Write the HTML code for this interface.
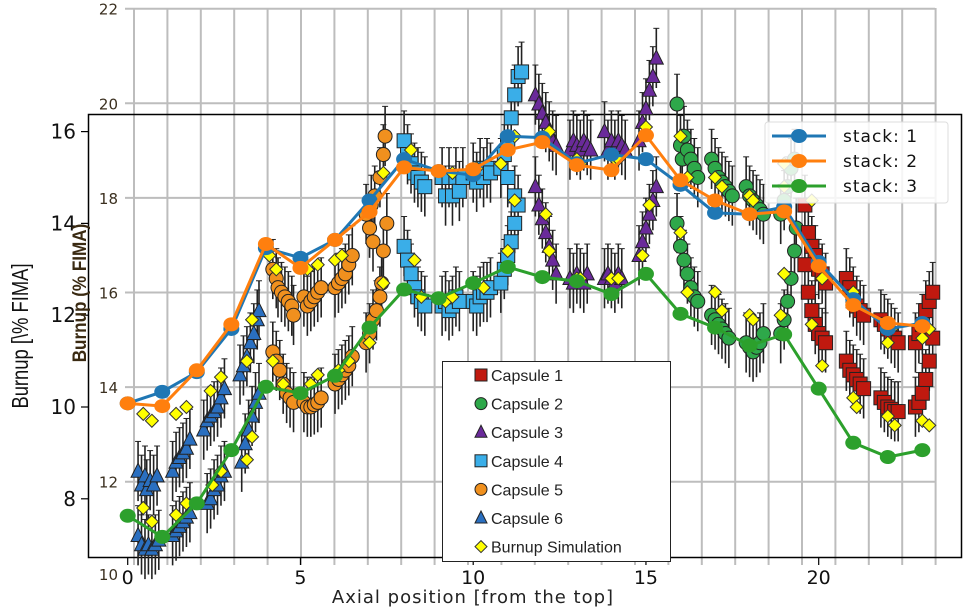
<!DOCTYPE html>
<html><head><meta charset="utf-8">
<style>
html,body{margin:0;padding:0;background:#fff;}
svg{display:block;}
text{font-family:"DejaVu Sans","Liberation Sans",sans-serif;}
</style></head>
<body>
<svg id="chart" width="967" height="614" viewBox="0 0 967 614" xmlns="http://www.w3.org/2000/svg">
  <g id="bg"></g>
  <rect x="88.5" y="114.5" width="873" height="443" fill="none" stroke="#000" stroke-width="1.5"/>
  <g id="err"></g>
  <g id="caps"></g>
  <g id="stacks"></g>
  <g id="axes"></g>
  <g id="legend1"></g>
  <g id="legend2"></g>
  <text x="473" y="603" text-anchor="middle" font-size="18" fill="#222" letter-spacing="1">Axial position [from the top]</text>
  <text transform="translate(28,336) rotate(-90) scale(0.8,1)" text-anchor="middle" font-size="23" fill="#111" style="font-family:'Liberation Sans',sans-serif">Burnup [\% FIMA]</text>
  <text transform="translate(86,293) rotate(-90) scale(0.9,1)" text-anchor="middle" font-size="19" font-weight="bold" fill="#3a2a12" style="font-family:'Liberation Sans',sans-serif">Burnup (% FIMA)</text>
</svg>
<script>
const xTicks=[0,5,10,15,20];
const yTicks=[8,10,12,14,16];
const bgYTicks=[22,20,18,16,14,12];
const stackX=[0,1,2,3,4,5,6,7,8,9,10,11,12,13,14,15,16,17,18,19,20,21,22,23];
const stack1=[10.08,10.33,10.76,11.7,13.46,13.25,13.64,14.5,15.4,15.14,15.05,15.9,15.87,15.31,15.5,15.4,14.84,14.23,14.2,14.36,13.16,12.35,11.7,11.83];
const stack2=[10.08,10.02,10.8,11.8,13.55,13.03,13.64,14.25,15.22,15.14,15.18,15.6,15.77,15.27,15.16,15.92,14.94,14.5,14.2,14.26,13.07,12.22,11.83,11.76];
const stack3=[7.63,7.17,7.9,9.06,10.44,10.3,10.68,11.73,12.56,12.37,12.7,13.05,12.83,12.74,12.46,12.9,12.03,11.73,11.34,11.58,10.4,9.22,8.91,9.06];
const cap6=[[0.3,8.6],[0.4,8.3],[0.5,8.5],[0.55,8.2],[0.65,8.4],[0.75,8.3],[0.85,8.5],[1.3,8.6],[1.4,8.8],[1.5,8.9],[1.6,9.0],[1.7,9.1],[1.8,9.3],[2.2,9.5],[2.3,9.7],[2.4,9.8],[2.5,9.9],[2.6,10.0],[2.7,10.2],[2.8,10.4],[3.25,10.7],[3.35,10.9],[3.45,11.1],[3.55,11.4],[3.65,11.6],[3.75,11.9],[3.8,12.1],
[0.3,7.2],[0.4,7.0],[0.5,6.9],[0.6,7.0],[0.7,6.9],[0.8,7.0],[0.9,7.1],[1.3,7.2],[1.4,7.3],[1.5,7.4],[1.6,7.5],[1.7,7.6],[1.8,7.7],[2.3,7.9],[2.4,8.0],[2.5,8.2],[2.6,8.3],[2.7,8.5],[2.8,8.6],[3.3,8.8],[3.4,9.2],[3.5,9.5],[3.6,9.8],[3.7,10.1],[3.8,10.3]];
const cap5=[[4.2,13.0],[4.3,12.8],[4.35,12.6],[4.45,12.5],[4.55,12.4],[4.65,12.3],[4.75,12.2],[4.8,12.0],[4.2,11.2],[4.3,11.0],[4.4,10.8],[4.5,10.5],[4.6,10.3],[4.7,10.2],[4.8,10.1],[5.1,12.4],[5.2,12.2],[5.3,12.3],[5.4,12.4],[5.5,12.5],[5.6,12.6],[5.1,10.1],[5.2,10.0],[5.3,10.0],[5.4,10.05],[5.5,10.1],[5.6,10.2],[6.0,12.6],[6.1,12.7],[6.2,12.8],[6.3,12.9],[6.4,13.1],[6.5,13.3],[6.0,10.5],[6.1,10.6],[6.2,10.7],[6.3,10.8],[6.4,10.9],[6.5,11.1],[6.9,14.2],[7.0,13.9],[7.05,14.4],[7.1,13.6],[7.15,14.6],[7.3,15.0],[7.4,15.5],[7.45,15.9],[7.5,14.0],[7.4,13.4],[7.35,12.7],[6.9,11.4],[7.0,11.6],[7.1,11.9],[7.2,12.1],[7.3,12.4]];
const cap4=[[8.0,15.8],[8.1,15.5],[8.2,15.3],[8.3,15.1],[8.4,15.0],[8.5,14.9],[8.6,14.8],[8.0,13.5],[8.1,13.2],[8.2,12.9],[8.3,12.6],[8.4,12.4],[8.5,12.3],[8.6,12.2],[9.1,15.0],[9.2,14.6],[9.3,15.0],[9.4,14.6],[9.5,15.0],[9.6,14.7],[9.7,15.0],[9.1,12.2],[9.2,12.3],[9.3,12.1],[9.4,12.2],[9.5,12.4],[9.6,12.3],[10.0,15.1],[10.1,14.9],[10.2,15.2],[10.3,15.0],[10.4,15.2],[10.5,15.1],[10.0,12.3],[10.1,12.2],[10.2,12.4],[10.3,12.5],[10.4,12.5],[10.5,12.6],[10.8,15.2],[10.9,15.5],[11.0,15.8],[11.1,16.3],[11.2,16.8],[11.3,17.2],[11.4,17.3],[11.0,15.0],[11.2,14.6],[11.3,14.4],[10.8,12.7],[10.9,13.0],[11.0,13.3],[11.1,13.6],[11.2,14.0]];
const cap3=[[11.8,16.8],[11.9,16.6],[12.0,16.4],[12.1,16.2],[12.2,16.0],[12.3,15.8],[12.4,15.7],[11.8,14.8],[11.9,14.4],[12.0,14.1],[12.1,13.8],[12.2,13.5],[12.3,13.2],[12.4,12.9],[12.8,15.6],[12.9,15.8],[13.0,15.7],[13.1,15.6],[13.2,15.8],[13.3,15.7],[13.4,15.6],[12.8,12.8],[12.9,12.7],[13.0,12.9],[13.1,12.8],[13.2,12.7],[13.3,12.9],[13.8,16.0],[13.9,15.6],[14.0,15.8],[14.1,15.6],[14.2,15.8],[14.3,15.7],[14.4,15.6],[13.8,12.8],[13.9,12.9],[14.0,12.8],[14.1,12.7],[14.2,12.9],[14.3,12.8],[14.8,15.8],[14.9,16.2],[15.0,16.5],[15.1,16.9],[15.2,17.2],[15.3,17.6],[14.8,13.3],[14.9,13.6],[15.0,13.9],[15.1,14.2],[15.2,14.5],[15.3,14.8]];
const cap2=[[15.9,16.6],[16.0,15.7],[16.05,15.4],[16.1,15.9],[16.2,15.6],[16.3,15.4],[16.4,15.2],[16.5,15.0],[15.9,14.0],[16.0,13.5],[16.1,13.2],[16.2,12.9],[16.3,12.6],[16.4,12.4],[16.5,12.3],[16.9,15.4],[17.0,15.2],[17.1,15.0],[17.2,14.9],[17.3,14.8],[17.4,14.7],[17.5,14.6],[16.9,12.0],[17.0,11.9],[17.1,11.8],[17.2,11.7],[17.3,11.6],[17.4,11.5],[17.9,14.8],[18.0,14.6],[18.1,14.5],[18.2,14.4],[18.3,14.3],[18.4,14.2],[17.9,11.4],[18.0,11.3],[18.1,11.2],[18.2,11.3],[18.3,11.4],[18.4,11.6],[18.9,14.2],[19.0,14.5],[19.1,14.8],[19.2,15.2],[19.3,15.4],[18.9,11.6],[19.0,11.9],[19.1,12.3],[19.2,12.8],[19.3,13.4],[19.35,13.9]];
const cap1=[[19.6,14.4],[19.7,13.8],[19.8,13.5],[19.9,13.3],[20.0,13.0],[20.1,12.9],[20.2,12.7],[19.6,13.1],[19.7,12.5],[19.8,12.1],[19.9,11.8],[20.0,11.6],[20.1,11.5],[20.2,11.4],[20.8,12.8],[20.9,12.6],[21.0,12.4],[21.1,12.2],[21.2,12.1],[21.3,12.0],[20.8,11.0],[20.9,10.8],[21.0,10.7],[21.1,10.6],[21.2,10.5],[21.3,10.4],[21.8,11.9],[21.9,11.8],[22.0,11.7],[22.1,11.6],[22.2,11.5],[22.3,11.4],[21.8,10.2],[21.9,10.1],[22.0,10.0],[22.1,9.95],[22.2,9.9],[22.3,9.9],[22.8,11.4],[22.9,11.6],[23.0,11.8],[23.1,12.1],[23.2,12.3],[23.3,12.5],[22.8,10.0],[22.9,10.1],[23.0,10.3],[23.1,10.6],[23.2,11.0],[23.3,11.5]];
const sim=[[0.45,9.85],[0.7,9.7],[1.4,9.85],[1.7,10.0],[2.4,10.35],[2.7,10.65],[3.45,11.0],[3.6,11.9],[0.45,7.8],[0.7,7.5],[1.4,7.65],[1.7,7.9],[2.45,8.3],[2.7,8.6],[3.45,8.85],[3.6,9.35],[4.1,13.3],[4.3,13.0],[4.2,11.0],[4.5,10.5],[5.2,13.0],[5.5,13.1],[5.3,10.5],[5.5,10.7],[6.0,13.2],[6.2,13.3],[6.1,10.8],[6.4,11.0],[7.0,14.5],[7.4,15.1],[7.4,12.7],[7.0,11.4],[8.2,15.6],[8.3,13.2],[8.5,12.4],[9.4,15.1],[9.2,12.3],[9.4,12.4],[10.1,15.2],[10.3,12.6],[10.8,15.3],[11.2,15.9],[11.0,13.4],[11.2,14.5],[12.1,15.9],[12.2,16.0],[12.1,14.2],[12.2,13.4],[13.0,15.4],[13.1,15.3],[13.0,12.8],[13.1,12.8],[14.1,15.4],[14.2,15.4],[14.0,12.8],[14.2,12.8],[15.0,16.1],[14.9,13.3],[15.1,14.4],[16.0,15.9],[16.2,15.0],[16.0,13.8],[16.2,12.5],[17.0,15.0],[17.2,14.8],[17.0,12.5],[17.2,12.1],[18.0,14.6],[18.1,14.5],[18.0,12.0],[18.1,11.9],[19.0,15.3],[19.0,14.8],[18.9,12.0],[19.0,12.9],[19.8,14.5],[19.8,11.8],[20.1,12.8],[20.1,10.9],[21.0,12.5],[21.0,12.2],[21.0,10.2],[21.1,10.0],[22.0,11.4],[22.0,9.8],[22.1,11.7],[22.2,9.6],[23.0,11.5],[23.0,9.7],[23.2,11.7],[23.2,9.6]];

const NS="http://www.w3.org/2000/svg";
function X(v){return 127.7+v*34.55;}
function Y(v){return 407-(v-10)*45.9;}
function BY(v){return 8.7+(22-v)*47.3;}
function mk(tag,attrs,parent){const e=document.createElementNS(NS,tag);for(const k in attrs)e.setAttribute(k,attrs[k]);parent.appendChild(e);return e;}

const bg=document.getElementById('bg');
for(let i=0;i<25;i++){const gx=134+i*33.4;
  const l=mk('line',{x1:gx,y1:8,x2:gx,y2:565,stroke:'#bdbdbd','stroke-width':2},bg);
  
  }
bgYTicks.forEach(t=>{const gy=BY(t);
  const l=mk('line',{x1:125,y1:gy,x2:935,y2:gy,stroke:'#bdbdbd','stroke-width':2},bg);
  
  
  const tx=mk('text',{x:118,y:gy+6,'text-anchor':'end','font-size':15,fill:'#3b3020'},bg);
  tx.textContent=t;
  
  });
const t10=mk('text',{x:118,y:580,'text-anchor':'end','font-size':15,fill:'#3b3020'},bg);t10.textContent='10';



const ax=document.getElementById('axes');
xTicks.forEach(t=>{const l=mk('line',{x1:X(t),y1:558,x2:X(t),y2:565,stroke:'#000','stroke-width':1.2},ax);
  
  
  const tx=mk('text',{x:X(t),y:584,'text-anchor':'middle','font-size':19,fill:'#111'},ax);tx.textContent=t;
  
  });
yTicks.forEach(t=>{const l=mk('line',{x1:81,y1:Y(t),x2:88,y2:Y(t),stroke:'#000','stroke-width':1.2},ax);
  
  
  const tx=mk('text',{x:76,y:Y(t)+7,'text-anchor':'end','font-size':20,fill:'#111'},ax);tx.textContent=t;
  
  });

function marker(shape,cx,cy,fill,parent,s){
  s=s||7;let e;
  if(shape==='sq')e=mk('rect',{x:cx-s,y:cy-s,width:2*s,height:2*s,fill:fill,stroke:'#222','stroke-width':1},parent);
  else if(shape==='ci')e=mk('circle',{cx:cx,cy:cy,r:s,fill:fill,stroke:'#222','stroke-width':1},parent);
  else if(shape==='tr')e=mk('polygon',{points:`${cx},${cy-s-1} ${cx+s},${cy+s-1} ${cx-s},${cy+s-1}`,fill:fill,stroke:'#222','stroke-width':1},parent);
  else e=mk('polygon',{points:`${cx},${cy-s} ${cx+s},${cy} ${cx},${cy+s} ${cx-s},${cy}`,fill:fill,stroke:'#333','stroke-width':1},parent);
  return e;}
const err=document.getElementById('err'),caps=document.getElementById('caps');
const capsules=[[cap6,'tr','#2a6fc0','capsule-6'],[cap5,'ci','#f0901e','capsule-5'],[cap4,'sq','#3aaee8','capsule-4'],[cap3,'tr','#6a2a9a','capsule-3'],[cap2,'ci','#2ea84a','capsule-2'],[cap1,'sq','#c0190f','capsule-1']];
capsules.forEach(([arr,sh,col,nm])=>{arr.forEach(p=>{
  const e=mk('line',{x1:X(p[0]),y1:Y(p[1]+0.65),x2:X(p[0]),y2:Y(p[1]-0.65),stroke:'#222','stroke-width':1.6},err);
  
  
  const c1=mk('line',{x1:X(p[0])-3,y1:Y(p[1]+0.65),x2:X(p[0])+3,y2:Y(p[1]+0.65),stroke:'#222','stroke-width':1},err);
  
  
  const m=marker(sh,X(p[0]),Y(p[1]),col,caps);
  
  });});
sim.forEach(p=>{const m=marker('di',X(p[0]),Y(p[1]),'#ffff00',caps,6.5);
  
  });

const st=document.getElementById('stacks');
[[stack3,'#2ca02c','stack-3'],[stack1,'#1f77b4','stack-1'],[stack2,'#ff7f0e','stack-2']].forEach(([vals,col,nm])=>{
  const pl=mk('polyline',{points:stackX.map((x,i)=>X(x)+','+Y(vals[i])).join(' '),fill:'none',stroke:col,'stroke-width':3},st);
  
  
  stackX.forEach((x,i)=>{const c=mk('ellipse',{cx:X(x),cy:Y(vals[i]),rx:8,ry:7,fill:col},st);
    
    });});

const lg=document.getElementById('legend1');
mk('rect',{x:442.5,y:361.5,width:228,height:200,fill:'#fff',stroke:'#222','stroke-width':1},lg);
const labels=['Capsule 1','Capsule 2','Capsule 3','Capsule 4','Capsule 5','Capsule 6','Burnup Simulation'];
const lsh=[['sq','#c0190f'],['ci','#2ea84a'],['tr','#6a2a9a'],['sq','#3aaee8'],['ci','#f0901e'],['tr','#2a6fc0'],['di','#ffff00']];
labels.forEach((t,i)=>{const yy=375+i*28.6;
  const g=mk('g',{},lg);
  
  
  marker(lsh[i][0],481,yy,lsh[i][1],g,6);
  const tx=mk('text',{x:491,y:yy+6,'font-size':16,fill:'#222',style:"font-family:'Liberation Sans',sans-serif"},g);tx.textContent=t;});

const l2=document.getElementById('legend2');
mk('rect',{x:765,y:122,width:183,height:81,rx:3,fill:'#fff','fill-opacity':0.85,stroke:'#ddd'},l2);
[['stack: 1','#1f77b4'],['stack: 2','#ff7f0e'],['stack: 3','#2ca02c']].forEach(([t,c],i)=>{const yy=136+i*25;
  const g=mk('g',{},l2);
  
  
  mk('line',{x1:772,y1:yy,x2:826,y2:yy,stroke:c,'stroke-width':3},g);
  mk('ellipse',{cx:799,cy:yy,rx:8,ry:7,fill:c},g);
  const tx=mk('text',{x:843,y:yy+6,'font-size':17,fill:'#111','letter-spacing':1},g);tx.textContent=t;});
</script>
</body></html>
